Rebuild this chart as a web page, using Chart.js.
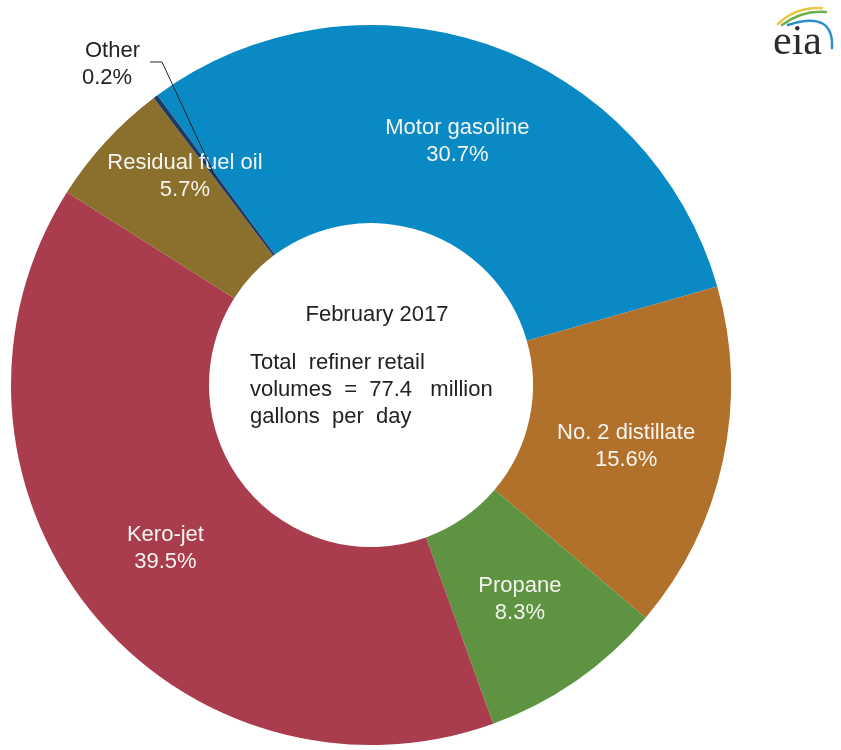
<!DOCTYPE html>
<html>
<head>
<meta charset="utf-8">
<script src="https://cdn.jsdelivr.net/npm/chart.js@4.4.0/dist/chart.umd.min.js"></script>
<style>
  html, body { margin: 0; padding: 0; background: #fff; }
  #wrap { position: relative; width: 841px; height: 750px; }
</style>
</head>
<body>
<div id="wrap"><canvas id="chart"></canvas></div>
<script>
const categories = ['Motor gasoline', 'No. 2 distillate', 'Propane', 'Kero-jet', 'Residual fuel oil', 'Other'];
const shares = [30.7, 15.6, 8.3, 39.5, 5.7, 0.2];
const sliceColors = ['#0a8ac4', '#b2712a', '#5e9441', '#a93c4d', '#8a6f2d', '#1f3864'];
const centerTitle = 'February 2017';
const centerLines = ['Total  refiner retail', 'volumes  =  77.4   million', 'gallons  per  day'];

// nudges for the labels inside the ring (px from the arc centre point)
const labelNudge = [[2, 3], [0, 6], [0, 0], [-2, 0], [6, -32], null];

const labelsPlugin = {
    id: 'sliceLabels',
    afterDraw(chart) {
        const ctx = chart.ctx;
        const arcs = chart.getDatasetMeta(0).data;
        ctx.save();
        ctx.font = '22px "Liberation Sans", Arial, sans-serif';
        ctx.textAlign = 'center';
        ctx.textBaseline = 'middle';

        arcs.forEach((arc, i) => {
            const nudge = labelNudge[i];
            if (!nudge) return;
            const p = arc.getCenterPoint();
            const x = p.x + nudge[0];
            const y = p.y + nudge[1];
            ctx.fillStyle = '#f4f4f0';
            ctx.fillText(categories[i], x, y - 13);
            ctx.fillText(shares[i].toFixed(1) + '%', x, y + 14);
        });

        // "Other" sits outside with a leader line
        const other = arcs[5].getCenterPoint();
        ctx.fillStyle = '#222';
        ctx.textAlign = 'left';
        ctx.fillText(categories[5], 85, 51);
        ctx.fillText(shares[5].toFixed(1) + '%', 82, 78);
        ctx.strokeStyle = '#222';
        ctx.lineWidth = 1;
        ctx.beginPath();
        ctx.moveTo(150, 62);
        ctx.lineTo(162, 62);
        ctx.lineTo(other.x, other.y);
        ctx.stroke();

        // centre text
        const c = arcs[0];
        ctx.fillStyle = '#222';
        ctx.textAlign = 'center';
        ctx.fillText(centerTitle, c.x + 6, c.y - 70);
        ctx.textAlign = 'left';
        centerLines.forEach((t, k) => {
            ctx.fillText(t, c.x - 121, c.y - 22 + k * 27);
        });

        // eia logo
        ctx.lineCap = 'round';
        ctx.lineWidth = 2.5;
        ctx.strokeStyle = '#e8c84a';
        ctx.beginPath(); ctx.moveTo(778, 24); ctx.quadraticCurveTo(795, 7, 822, 8); ctx.stroke();
        ctx.strokeStyle = '#6bb04a';
        ctx.beginPath(); ctx.moveTo(782, 25); ctx.quadraticCurveTo(802, 10, 826, 12); ctx.stroke();
        ctx.strokeStyle = '#2a8fd0';
        ctx.beginPath(); ctx.moveTo(788, 25); ctx.quadraticCurveTo(834, 10, 832, 48); ctx.stroke();
        ctx.fillStyle = '#2b2b2b';
        ctx.font = '42px "Liberation Serif", "Times New Roman", serif';
        ctx.textBaseline = 'alphabetic';
        ctx.fillText('eia', 773, 54);
        ctx.restore();
    }
};

new Chart(document.getElementById('chart').getContext('2d'), {
    type: 'doughnut',
    data: {
        labels: categories,
        datasets: [{
            data: shares,
            backgroundColor: sliceColors,
            borderWidth: 0
        }]
    },
    options: {
        responsive: true,
        maintainAspectRatio: false,
        animation: false,
        rotation: -36.4,
        cutout: '45%',
        layout: {
            padding: { left: 11, right: 110, top: 25, bottom: 5 }
        },
        plugins: {
            legend: { display: false },
            tooltip: { enabled: false }
        }
    },
    plugins: [labelsPlugin]
});
</script>
</body>
</html>
